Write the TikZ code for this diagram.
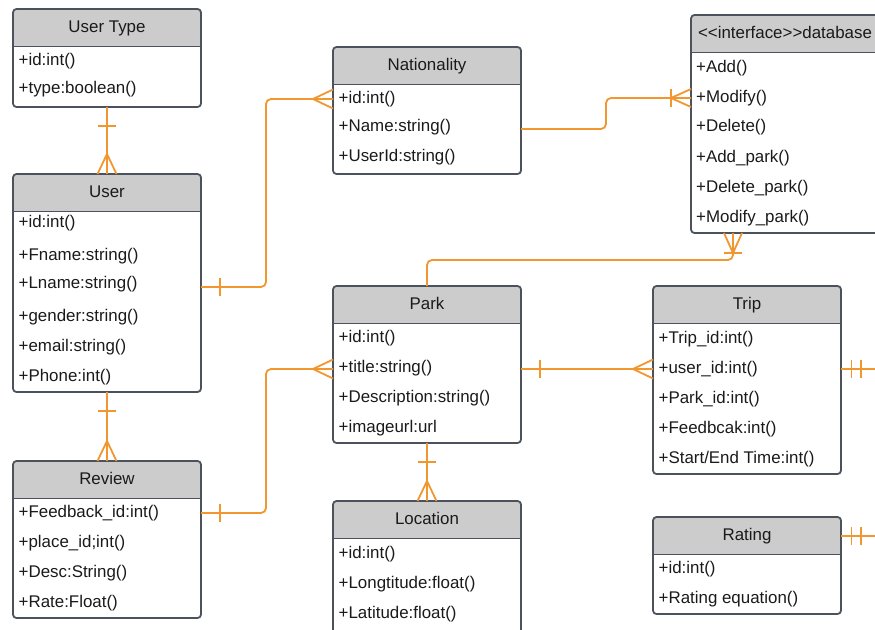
\documentclass[tikz,border=0pt]{standalone}
\usepackage{fontspec}
\setmainfont{Liberation Sans}
\usetikzlibrary{calc}

\definecolor{relorange}{RGB}{242,150,48}
\definecolor{frameslate}{RGB}{76,82,92}
\definecolor{headgray}{RGB}{204,204,204}
\definecolor{inktext}{RGB}{26,26,26}

\tikzset{
  boxframe/.style={draw=frameslate, line width=1.8pt, rounded corners=3.5pt,
    inner sep=0pt, outer sep=0pt, minimum width=188pt},
  headrule/.style={draw=frameslate, line width=1.8pt},
  titletext/.style={anchor=base, inner sep=0pt, text=inktext,
    font=\fontsize{16.9}{20}\selectfont},
  rowtext/.style={anchor=base west, inner sep=0pt, text=inktext,
    font=\fontsize{16.9}{20}\selectfont},
  rel/.style={draw=relorange, line width=1.8pt, rounded corners=5pt},
  relmark/.style={draw=relorange, line width=1.8pt},
  % cardinality marks: box edge at the origin, connector along -x
  bar/.pic={\draw[relmark] (-19,-9) -- (-19,9);},
  crow/.pic={\draw[relmark] (0,-9.5) -- (-20,0) -- (0,9.5);},
  crowbar/.pic={\draw[relmark] (0,-9) -- (-20,0) -- (0,9);
                \draw[relmark] (-20,-9) -- (-20,9);},
  doublebar/.pic={\draw[relmark] (-10.5,-9) -- (-10.5,9);
                  \draw[relmark] (-20,-9) -- (-20,9);}
}

% class box: name, left x, top y, bottom y, title
\newcommand\umlclass[5]{%
  \fill[headgray] (#2,#3+37.5) {[rounded corners=3.5pt] -- (#2,#3) -- (#2+188,#3)} -- (#2+188,#3+37.5) -- cycle;
  \draw[headrule] (#2,#3+37.5) -- (#2+188,#3+37.5);
  \node[boxframe, minimum height={#4pt-#3pt}, anchor=north west] (#1) at (#2,#3) {};
  \node[titletext] (#1-title) at (#2+94,#3+23) {#5};
}

\begin{document}
\begin{tikzpicture}[x=1pt, y=-1pt]
\useasboundingbox (0,0) rectangle (875,629);

% ---------- classes ----------
\umlclass{utype}{13}{9}{107}{User Type}
\node[rowtext] (utype-1) at (18.5,65) {+id:int()};
\node[rowtext] (utype-2) at (18.5,93) {+type:boolean()};

\umlclass{user}{13}{174}{392}{User}
\node[rowtext] (user-1) at (18.5,227) {+id:int()};
\node[rowtext] (user-2) at (18.5,260) {+Fname:string()};
\node[rowtext] (user-3) at (18.5,288) {+Lname:string()};
\node[rowtext] (user-4) at (18.5,321) {+gender:string()};
\node[rowtext] (user-5) at (18.5,351) {+email:string()};
\node[rowtext] (user-6) at (18.5,381) {+Phone:int()};

\umlclass{review}{13}{461}{618}{Review}
\node[rowtext] (review-1) at (18.5,517) {+Feedback\_id:int()};
\node[rowtext] (review-2) at (18.5,547) {+place\_id;int()};
\node[rowtext] (review-3) at (18.5,577) {+Desc:String()};
\node[rowtext] (review-4) at (18.5,607) {+Rate:Float()};

\umlclass{nat}{333}{47}{174}{Nationality}
\node[rowtext] (nat-1) at (338.5,103) {+id:int()};
\node[rowtext] (nat-2) at (338.5,131) {+Name:string()};
\node[rowtext] (nat-3) at (338.5,161) {+UserId:string()};

\umlclass{db}{691}{15}{233}{<{}<interface>{}>database}
\node[rowtext] (db-1) at (696,72) {+Add()};
\node[rowtext] (db-2) at (696,102) {+Modify()};
\node[rowtext] (db-3) at (696,131.5) {+Delete()};
\node[rowtext] (db-4) at (696,162) {+Add\_park()};
\node[rowtext] (db-5) at (696,192) {+Delete\_park()};
\node[rowtext] (db-6) at (696,222) {+Modify\_park()};

\umlclass{park}{333}{286}{443}{Park}
\node[rowtext] (park-1) at (338.5,342) {+id:int()};
\node[rowtext] (park-2) at (338.5,372) {+title:string()};
\node[rowtext] (park-3) at (338.5,402) {+Description:string()};
\node[rowtext] (park-4) at (338.5,432) {+imageurl:url};

\umlclass{loc}{333}{501}{634}{Location}
\node[rowtext] (loc-1) at (338.5,558) {+id:int()};
\node[rowtext] (loc-2) at (338.5,588) {+Longtitude:float()};
\node[rowtext] (loc-3) at (338.5,618) {+Latitude:float()};

\umlclass{trip}{653}{286}{474}{Trip}
\node[rowtext] (trip-1) at (658.5,343) {+Trip\_id:int()};
\node[rowtext] (trip-2) at (658.5,373) {+user\_id:int()};
\node[rowtext] (trip-3) at (658.5,403) {+Park\_id:int()};
\node[rowtext] (trip-4) at (658.5,433) {+Feedbcak:int()};
\node[rowtext] (trip-5) at (658.5,463) {+Start/End Time:int()};

\umlclass{rating}{653}{517}{614}{Rating}
\node[rowtext] (rating-1) at (658.5,573) {+id:int()};
\node[rowtext] (rating-2) at (658.5,603) {+Rating equation()};

% ---------- attachment points on the box edges ----------
\coordinate (userR)   at ($(user.north east)+(0,113)$);
\coordinate (natL)    at ($(nat.north west)+(0,52)$);
\coordinate (natR)    at ($(nat.north east)+(0,82)$);
\coordinate (dbL)     at ($(db.north west)+(0,83)$);
\coordinate (dbB)     at ($(db.south west)+(42,0)$);
\coordinate (reviewR) at ($(review.north east)+(0,52)$);
\coordinate (parkL)   at ($(park.north west)+(0,83)$);
\coordinate (parkR)   at ($(park.north east)+(0,83)$);
\coordinate (tripL)   at ($(trip.north west)+(0,83)$);
\coordinate (tripR)   at ($(trip.north east)+(0,83)$);
\coordinate (ratingR) at ($(rating.north east)+(0,19)$);
\coordinate (tripOut)   at ($(tripR)+(45,0)$);
\coordinate (ratingOut) at ($(ratingR)+(45,0)$);

% ---------- relationships ----------
\draw[rel] (utype.south) -- (user.north);
\pic[rotate=90]  at (utype.south) {bar};
\pic[rotate=-90] at (user.north) {crow};

\draw[rel] (userR) -- ++(65,0) |- (natL);
\pic[rotate=180] at (userR) {bar};
\pic at (natL) {crow};

\draw[rel] (natR) -- ++(85,0) |- (dbL);
\pic at (dbL) {crowbar};

\draw[rel] (dbB) -- ++(0,27) -| (park.north);
\pic[rotate=90] at (dbB) {crowbar};

\draw[rel] (user.south) -- (review.north);
\pic[rotate=90]  at (user.south) {bar};
\pic[rotate=-90] at (review.north) {crow};

\draw[rel] (reviewR) -- ++(65,0) |- (parkL);
\pic[rotate=180] at (reviewR) {bar};
\pic at (parkL) {crow};

\draw[rel] (parkR) -- (tripL);
\pic[rotate=180] at (parkR) {bar};
\pic at (tripL) {crow};

\draw[rel] (park.south) -- (loc.north);
\pic[rotate=90]  at (park.south) {bar};
\pic[rotate=-90] at (loc.north) {crow};

\draw[rel] (tripR) -- (tripOut);
\pic[rotate=180] at (tripR) {doublebar};

\draw[rel] (ratingR) -- (ratingOut);
\pic[rotate=180] at (ratingR) {doublebar};
\end{tikzpicture}
\end{document}
